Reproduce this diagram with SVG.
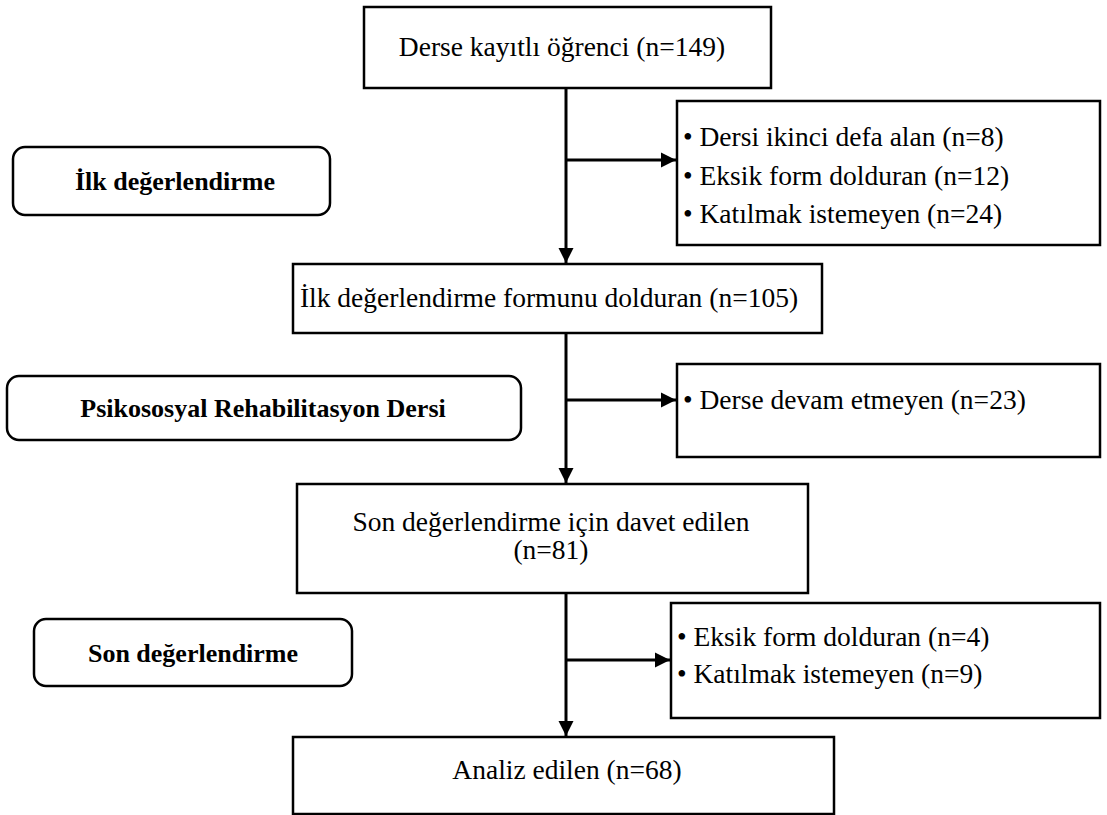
<svg xmlns="http://www.w3.org/2000/svg" width="1107" height="815" viewBox="0 0 1107 815">
<style>
.box{fill:#fff;stroke:#000;stroke-width:2.5}
.rbox{fill:#fff;stroke:#000;stroke-width:2.5}
.t{font-family:"Liberation Serif","Times New Roman",serif;font-size:27.5px;fill:#000}
.b{font-family:"Liberation Serif","Times New Roman",serif;font-size:26px;font-weight:bold;fill:#000}
.c{text-anchor:middle}
.ln{stroke:#000;stroke-width:3;fill:none}
</style>
<defs>
<marker id="ah" markerWidth="16" markerHeight="16" refX="15" refY="8" orient="auto" markerUnits="userSpaceOnUse" viewBox="0 0 16 16">
<path d="M0,0.5 L15,8 L0,15.5 Z" fill="#000"/>
</marker>
</defs>
<rect width="1107" height="815" fill="#fff"/>
<g id="connectors">
<path class="ln" d="M566,88 V263" marker-end="url(#ah)"/>
<path class="ln" d="M566,160 H676" marker-end="url(#ah)"/>
<path class="ln" d="M566,333 V483" marker-end="url(#ah)"/>
<path class="ln" d="M566,400 H676" marker-end="url(#ah)"/>
<path class="ln" d="M566,593 V736" marker-end="url(#ah)"/>
<path class="ln" d="M566,660 H670" marker-end="url(#ah)"/>
</g>
<g id="n1">
<rect class="box" x="364" y="7" width="407" height="81"/>
<text class="t c" x="562" y="56">Derse kayıtlı öğrenci (n=149)</text>
</g>
<g id="e1">
<rect class="box" x="677" y="101" width="423" height="144"/>
<text class="t" x="683" y="146">• Dersi ikinci defa alan (n=8)</text>
<text class="t" x="683" y="185">• Eksik form dolduran (n=12)</text>
<text class="t" x="683" y="223">• Katılmak istemeyen (n=24)</text>
</g>
<g id="s1">
<rect class="rbox" x="13" y="147" width="317" height="68" rx="12"/>
<text class="b c" x="175" y="190">İlk değerlendirme</text>
</g>
<g id="n2">
<rect class="box" x="293" y="264" width="529" height="69"/>
<text class="t c" x="549" y="307">İlk değerlendirme formunu dolduran (n=105)</text>
</g>
<g id="s2">
<rect class="rbox" x="7" y="376" width="514" height="64" rx="12"/>
<text class="b c" x="263" y="417">Psikososyal Rehabilitasyon Dersi</text>
</g>
<g id="e2">
<rect class="box" x="677" y="364" width="423" height="93"/>
<text class="t" x="683" y="409">• Derse devam etmeyen (n=23)</text>
</g>
<g id="n3">
<rect class="box" x="297" y="484" width="511" height="109"/>
<text class="t c" x="551" y="531">Son değerlendirme için davet edilen</text>
<text class="t c" x="551" y="559">(n=81)</text>
</g>
<g id="s3">
<rect class="rbox" x="34" y="619" width="318" height="67" rx="12"/>
<text class="b c" x="193" y="662">Son değerlendirme</text>
</g>
<g id="e3">
<rect class="box" x="671" y="603" width="429" height="115"/>
<text class="t" x="677" y="646">• Eksik form dolduran (n=4)</text>
<text class="t" x="677" y="683">• Katılmak istemeyen (n=9)</text>
</g>
<g id="n4">
<rect class="box" x="293" y="737" width="541" height="77"/>
<text class="t c" x="567" y="779">Analiz edilen (n=68)</text>
</g>
</svg>
